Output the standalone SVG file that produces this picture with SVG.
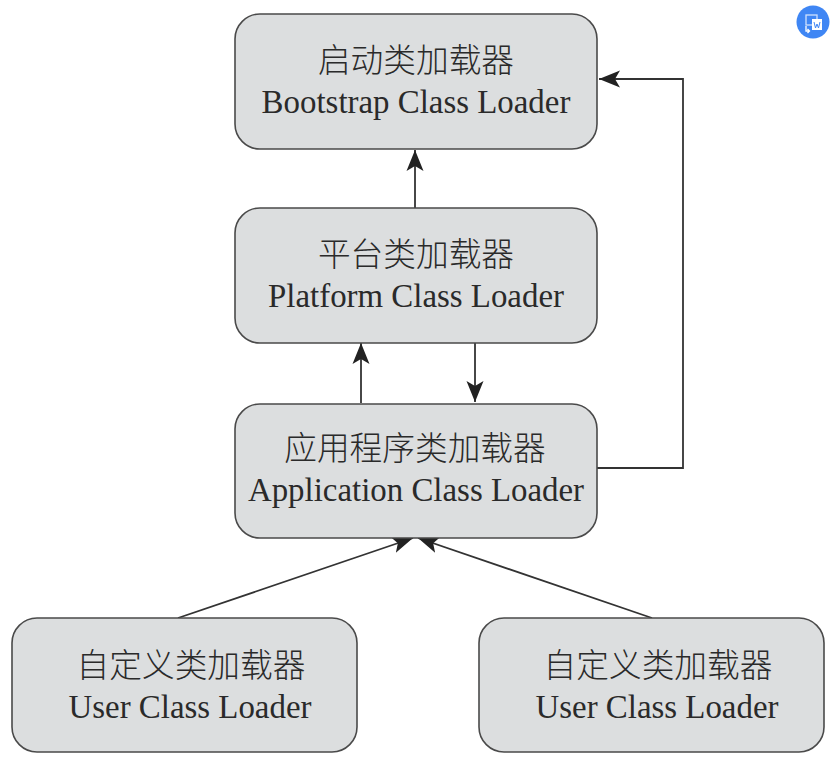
<svg xmlns="http://www.w3.org/2000/svg" width="831" height="758" viewBox="0 0 831 758">
<style>
.box{fill:#dcdedf;stroke:#4a4a4a;stroke-width:1.6}
.cn{font-family:"Noto Sans CJK SC","Noto Sans CJK JP",serif;font-size:32.700px;font-weight:300;text-anchor:middle;fill:#2a2a2a}
.en{font-family:"Liberation Serif",serif;font-size:32.900px;text-anchor:middle;fill:#2a2a2a}
.ln{fill:none;stroke:#333;stroke-width:1.8}
</style>
<defs>
<marker id="a" markerUnits="userSpaceOnUse" markerWidth="24" markerHeight="20" refX="21" refY="9" orient="auto"><path d="M0 0.500 L21 9 L0 17.500 L5 9 Z" fill="#222"/></marker>
</defs>
<rect width="831" height="758" fill="#fff"/>
<g id="connectors">
<path class="ln" d="M415 208V150" marker-end="url(#a)"/>
<path class="ln" d="M361 403V343" marker-end="url(#a)"/>
<path class="ln" d="M475 343V402" marker-end="url(#a)"/>
<path class="ln" d="M597 468H683V79H599" marker-end="url(#a)"/>
<path class="ln" d="M178 618L413 538" marker-end="url(#a)"/>
<path class="ln" d="M652 618L418 538" marker-end="url(#a)"/>
</g>
<g id="bootstrap"><rect class="box" x="235" y="14" width="362" height="135" rx="25"/><text class="cn" x="416" y="72">启动类加载器</text><text class="en" x="416" y="113">Bootstrap Class Loader</text></g>
<g id="platform"><rect class="box" x="235" y="208" width="362" height="135" rx="25"/><text class="cn" x="416" y="266">平台类加载器</text><text class="en" x="416" y="307">Platform Class Loader</text></g>
<g id="application"><rect class="box" x="235" y="404" width="362" height="134" rx="25"/><text class="cn" x="415" y="460">应用程序类加载器</text><text class="en" x="416" y="501">Application Class Loader</text></g>
<g id="user1"><rect class="box" x="12" y="618" width="345" height="134" rx="25"/><text class="cn" x="191" y="677">自定义类加载器</text><text class="en" x="190" y="718">User Class Loader</text></g>
<g id="user2"><rect class="box" x="479" y="618" width="345" height="134" rx="25"/><text class="cn" x="658" y="677">自定义类加载器</text><text class="en" x="657" y="718">User Class Loader</text></g>
<g id="badge"><circle cx="813" cy="22" r="16.500" fill="#3f86f4"/><rect x="806" y="15" width="11" height="10" fill="none" stroke="#cfe0fd" stroke-width="1.300"/><rect x="812" y="19" width="10" height="11" fill="#fff"/><path d="M806 26v5h3M807.500 33l2-2-2-2" fill="none" stroke="#fff" stroke-width="1.300"/><path d="M814 22l1.500 6 1.500-4 1.500 4 1.500-6" fill="none" stroke="#3f86f4" stroke-width="1"/></g>
</svg>
